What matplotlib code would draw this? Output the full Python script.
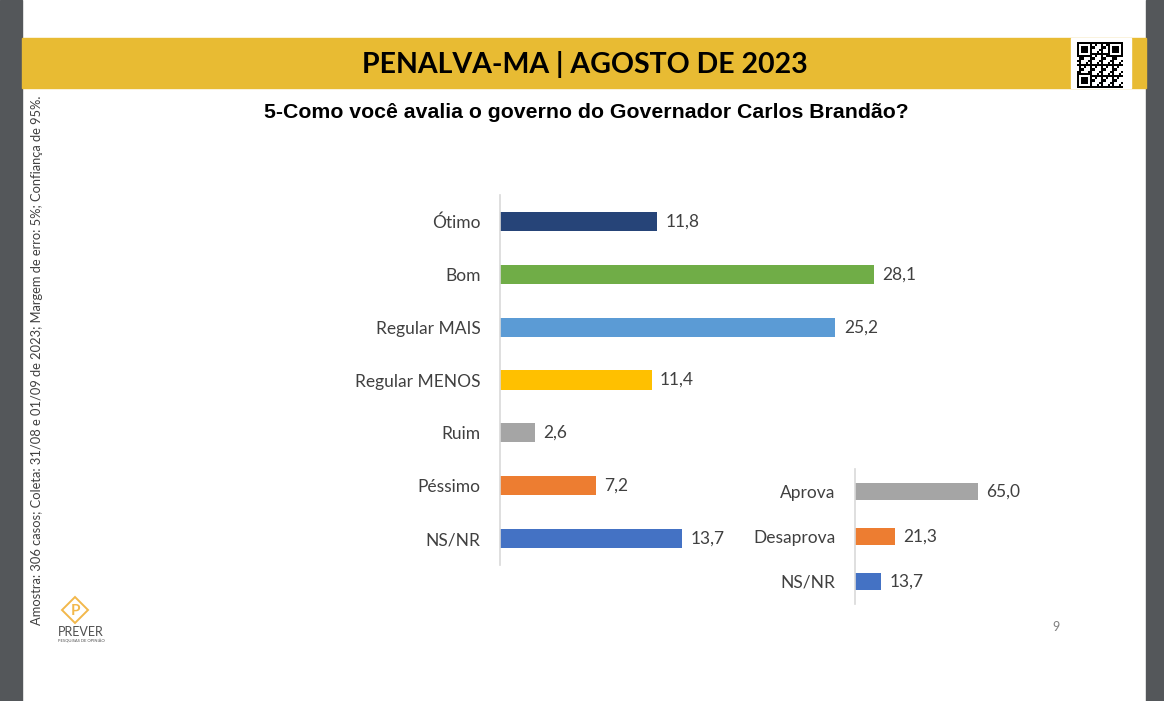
import matplotlib.pyplot as plt
from matplotlib.patches import Rectangle, Polygon

plt.rcParams['font.family'] = ['Lato', 'DejaVu Sans']

# dados
categorias = ['Ótimo', 'Bom', 'Regular MAIS', 'Regular MENOS', 'Ruim', 'Péssimo', 'NS/NR']
valores = [11.8, 28.1, 25.2, 11.4, 2.6, 7.2, 13.7]
cores = ['#264478', '#70AD47', '#5B9BD5', '#FFC000', '#A5A5A5', '#ED7D31', '#4472C4']

cat_aprov = ['Aprova', 'Desaprova', 'NS/NR']
val_aprov = [65.0, 21.3, 13.7]
cores_aprov = ['#A5A5A5', '#ED7D31', '#4472C4']

titulo = 'PENALVA-MA | AGOSTO DE 2023'
pergunta = '5-Como você avalia o governo do Governador Carlos Brandão?'
nota = 'Amostra: 306 casos; Coleta: 31/08 e 01/09 de 2023; Margem de erro: 5%; Confiança de 95%.'

W, H = 1164, 701
fig = plt.figure(figsize=(W / 100, H / 100), dpi=100)

# fundo em coordenadas de pixel
bg = fig.add_axes([0, 0, 1, 1])
bg.set_xlim(0, W)
bg.set_ylim(H, 0)
bg.axis('off')
bg.add_patch(Rectangle((0, 0), 22, H, color='#54575A'))
bg.add_patch(Rectangle((1146, 0), W - 1146, H, color='#54575A'))
bg.add_patch(Rectangle((22, 38), 1146 - 22, 50, color='#E8BB33'))
bg.add_patch(Rectangle((1071, 38), 60, 50, color='white'))

# QR decorativo
x0, y0, m = 1077, 42, 2.2
n = 21
for i in range(n):
    for j in range(n):
        finder = False
        for (fi, fj) in [(0, 0), (0, n - 7), (n - 7, 0)]:
            if fi <= i < fi + 7 and fj <= j < fj + 7:
                finder = True
                di, dj = i - fi, j - fj
                on = di in (0, 6) or dj in (0, 6) or (2 <= di <= 4 and 2 <= dj <= 4)
        if not finder:
            on = (i * 7 + j * 5 + i * j * 3) % 5 < 2
        if on:
            bg.add_patch(Rectangle((x0 + j * m, y0 + i * m), m, m, color='black', lw=0))

bg.text(585, 64, titulo, ha='center', va='center', fontsize=20.5, fontweight='bold', color='black')
bg.text(586, 113, pergunta, ha='center', va='center', fontsize=15.3, fontweight='bold',
        color='black', family=['Liberation Sans', 'DejaVu Sans'])
bg.text(37, 360, nota, ha='center', va='center', rotation=90, fontsize=9.3, color='#404040')
bg.text(1056, 627, '9', ha='center', va='center', fontsize=9, color='#808080')

# logo
bg.add_patch(Polygon([(75, 597), (88, 610), (75, 623), (62, 610)], closed=True,
                     fill=False, ec='#F2B84B', lw=1.4))
bg.text(75, 611, 'P', ha='center', va='center', fontsize=11, color='#F2B84B', fontweight='bold')
bg.text(81, 632, 'PREVER', ha='center', va='center', fontsize=9, color='#505050')
bg.text(81, 641, 'PESQUISAS DE OPINIÃO', ha='center', va='center', fontsize=3, color='#505050')


def painel(left, top, height, width, scale, cats, vals, cols, fs):
    ax = fig.add_axes([left / W, 1 - (top + height) / H, width / W, height / H])
    ax.barh(range(len(cats)), vals, height=0.36, color=cols)
    ax.set_ylim(len(cats) - 0.5, -0.5)
    ax.set_xlim(0, width / scale)
    ax.set_yticks(range(len(cats)))
    ax.set_yticklabels(cats, fontsize=fs, color='#404040')
    ax.tick_params(axis='y', length=0, pad=14)
    ax.set_xticks([])
    for s in ['top', 'right', 'bottom']:
        ax.spines[s].set_visible(False)
    ax.spines['left'].set_color('#D9D9D9')
    ax.spines['left'].set_linewidth(1.2)
    ax.patch.set_alpha(0)
    for i, v in enumerate(vals):
        ax.annotate(f'{v:.1f}'.replace('.', ','), (v, i), xytext=(6, 0),
                    textcoords='offset points', va='center', ha='left',
                    fontsize=fs, color='#404040')
    return ax


painel(500, 195, 370, 420, 13.31, categorias, valores, cores, 12.5)
painel(855, 469, 135, 200, 1.89, cat_aprov, val_aprov, cores_aprov, 12.5)

fig.savefig('out.png', dpi=100)
